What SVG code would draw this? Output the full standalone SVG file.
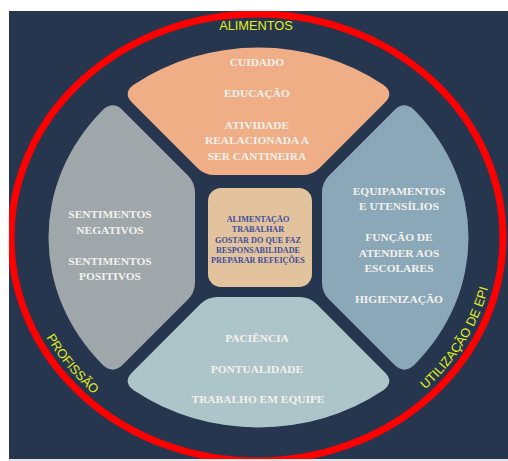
<svg xmlns="http://www.w3.org/2000/svg" xmlns:xlink="http://www.w3.org/1999/xlink" width="508" height="461" viewBox="0 0 508 461">
  <defs>
    <style>
      .seg-txt { font-family: "Liberation Serif", "Times New Roman", serif; font-weight: bold; font-size: 11.4px; fill: #F3F1EC; text-anchor: middle; }
      .core-txt { font-family: "Liberation Serif", "Times New Roman", serif; font-weight: bold; font-size: 8.2px; fill: #3C4E9C; text-anchor: middle; }
      .ring-txt { font-family: "Liberation Sans", Arial, sans-serif; font-size: 12.8px; fill: #E4EE1A; }
    </style>
    <clipPath id="panel-clip">
      <rect x="9" y="11" width="499" height="448"/>
    </clipPath>
    <!-- baseline for the curved ring labels, running counter-clockwise from the left -->
    <path id="ring-path" d="M 19,237.5 A 238 215 0 0 0 495,237.5 A 238 215 0 0 0 19,237.5"/>
  </defs>

  <!-- page and dark panel -->
  <rect x="0" y="0" width="508" height="461" fill="#FFFFFF"/>
  <rect x="9" y="459" width="499" height="2" fill="#E6E6E6"/>
  <rect x="9" y="11" width="499" height="448" fill="#26364F"/>

  <!-- outer red ring -->
  <g id="ring" clip-path="url(#panel-clip)">
    <ellipse cx="257" cy="237.5" rx="246" ry="223.5" fill="none" stroke="#FF0000" stroke-width="7"/>
  </g>

  <!-- ring labels -->
  <g id="ring-labels">
    <text class="ring-txt" x="256" y="30" text-anchor="middle" font-size="13.5">ALIMENTOS</text>
    <text class="ring-txt" text-anchor="middle"><textPath xlink:href="#ring-path" href="#ring-path" startOffset="142">PROFISSÃO</textPath></text>
    <text class="ring-txt" text-anchor="middle"><textPath xlink:href="#ring-path" href="#ring-path" startOffset="600">UTILIZAÇÃO DE EPI</textPath></text>
  </g>

  <!-- connectors: none in this figure -->
  <g id="connectors"/>

  <!-- top segment -->
  <g id="seg-top">
    <path transform="translate(258.5,237.5)" fill="#EFAE86"
      d="M -61.07,-69.57 L -126.25,-134.75 Q -136.15,-144.65 -124.8,-152.8 A 210 190 0 0 1 124.8,-152.8 Q 136.15,-144.65 126.25,-134.75 L 61.07,-69.57 Q 54,-62.5 44,-62.5 L -44,-62.5 Q -54,-62.5 -61.07,-69.57 Z"/>
    <text class="seg-txt" x="257" y="66">CUIDADO</text>
    <text class="seg-txt" x="257" y="97">EDUCAÇÃO</text>
    <text class="seg-txt" x="257" y="128.5">ATIVIDADE</text>
    <text class="seg-txt" x="257" y="144">REALACIONADA A</text>
    <text class="seg-txt" x="257" y="159.5">SER CANTINEIRA</text>
  </g>

  <!-- left segment -->
  <g id="seg-left">
    <path transform="translate(258.5,237.5)" fill="#9FA7AB"
      d="M -70.57,-62.07 L -135.6,-127.1 Q -145.5,-137 -155.7,-127.5 A 210 190 0 0 0 -155.7,127.5 Q -145.5,137 -135.6,127.1 L -70.57,62.07 Q -63.5,55 -63.5,45 L -63.5,-45 Q -63.5,-55 -70.57,-62.07 Z"/>
    <text class="seg-txt" x="110" y="218">SENTIMENTOS</text>
    <text class="seg-txt" x="110" y="233.5">NEGATIVOS</text>
    <text class="seg-txt" x="110" y="264.5">SENTIMENTOS</text>
    <text class="seg-txt" x="110" y="279.5">POSITIVOS</text>
  </g>

  <!-- right segment -->
  <g id="seg-right">
    <path transform="translate(258.5,237.5)" fill="#8BA8B9"
      d="M 70.57,-62.07 L 135.6,-127.1 Q 145.5,-137 155.7,-127.5 A 210 190 0 0 1 155.7,127.5 Q 145.5,137 135.6,127.1 L 70.57,62.07 Q 63.5,55 63.5,45 L 63.5,-45 Q 63.5,-55 70.57,-62.07 Z"/>
    <text class="seg-txt" x="399" y="195">EQUIPAMENTOS</text>
    <text class="seg-txt" x="399" y="210">E UTENSÍLIOS</text>
    <text class="seg-txt" x="399" y="241">FUNÇÃO DE</text>
    <text class="seg-txt" x="399" y="257">ATENDER AOS</text>
    <text class="seg-txt" x="399" y="272">ESCOLARES</text>
    <text class="seg-txt" x="399" y="302.5">HIGIENIZAÇÃO</text>
  </g>

  <!-- bottom segment -->
  <g id="seg-bottom">
    <path transform="translate(258.5,237.5)" fill="#ADC5C8"
      d="M -58.07,66.57 L -126.25,134.75 Q -136.15,144.65 -124.8,152.8 A 210 190 0 0 0 124.8,152.8 Q 136.15,144.65 126.25,134.75 L 58.07,66.57 Q 51,59.5 41,59.5 L -41,59.5 Q -51,59.5 -58.07,66.57 Z"/>
    <text class="seg-txt" x="257" y="341.5">PACIÊNCIA</text>
    <text class="seg-txt" x="257" y="372.5">PONTUALIDADE</text>
    <text class="seg-txt" x="258" y="403">TRABALHO EM EQUIPE</text>
  </g>

  <!-- centre box -->
  <g id="core">
    <rect x="208" y="188" width="104" height="99" rx="13" ry="13" fill="#E3C39E"/>
    <text class="core-txt" x="258" y="221.5">ALIMENTAÇÃO</text>
    <text class="core-txt" x="258" y="231.8">TRABALHAR</text>
    <text class="core-txt" x="258" y="242.5">GOSTAR DO QUE FAZ</text>
    <text class="core-txt" x="258" y="252.8">RESPONSABILIDADE</text>
    <text class="core-txt" x="258" y="263">PREPARAR REFEIÇÕES</text>
  </g>
</svg>
